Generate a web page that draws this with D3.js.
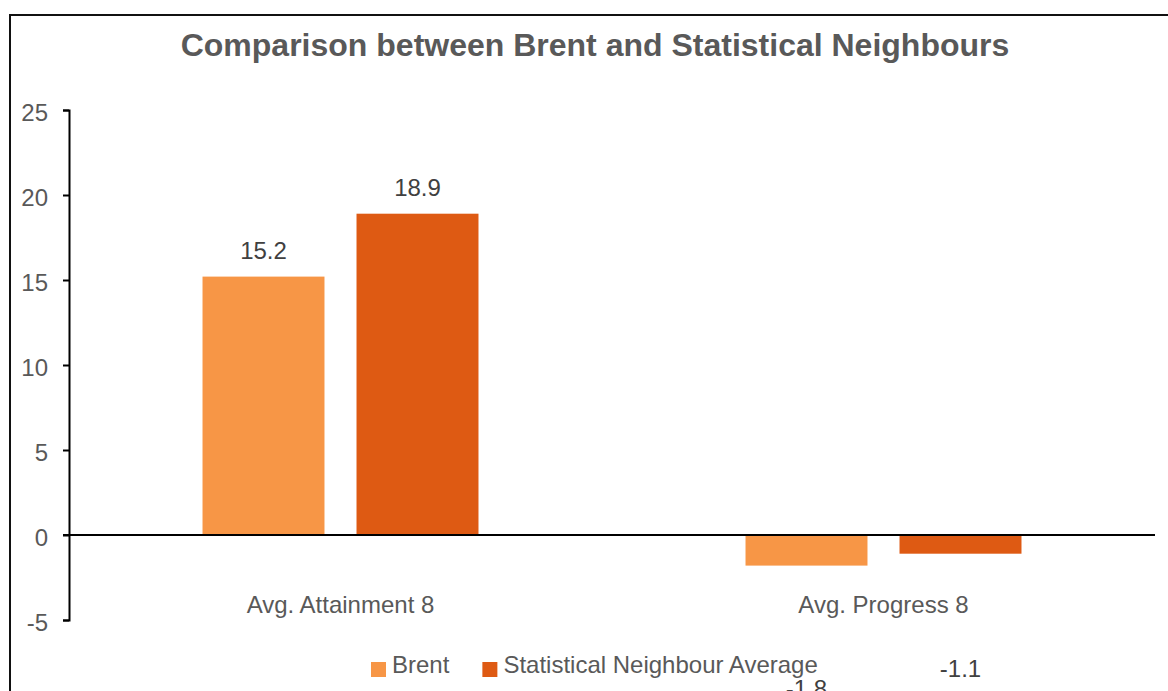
<!DOCTYPE html>
<html>
<head>
<meta charset="utf-8">
<script src="https://d3js.org/d3.v7.min.js"></script>
<style>
  html, body { margin: 0; padding: 0; background: #fff; }
  svg { display: block; font-family: "Liberation Sans", Arial, sans-serif; }
</style>
</head>
<body>
<div id="chart"></div>
<script>
// chart data
var categories = ["Avg. Attainment 8", "Avg. Progress 8"];
var seriesNames = ["Brent", "Statistical Neighbour Average"];
var brentValues = [15.2, -1.8];
var neighbourValues = [18.9, -1.1];
var yTicks = [-5, 0, 5, 10, 15, 20, 25];
var colors = ["#F79646", "#DE5A13"];

var width = 1168, height = 691;
var textColor = "#595959";

var svg = d3.select("#chart").append("svg")
    .attr("width", width)
    .attr("height", height);

// outer chart frame (runs off the right and bottom of the picture)
svg.append("rect")
    .attr("x", 10).attr("y", 15)
    .attr("width", 1170).attr("height", 700)
    .attr("fill", "none")
    .attr("stroke", "#111")
    .attr("stroke-width", 2);

svg.append("text")
    .attr("x", 595).attr("y", 56)
    .attr("text-anchor", "middle")
    .attr("font-size", 32)
    .attr("font-weight", "bold")
    .attr("fill", textColor)
    .text("Comparison between Brent and Statistical Neighbours");

var y = d3.scaleLinear().domain([-5, 25]).range([620, 110]);
var x0 = d3.scaleBand().domain(categories).range([69, 1155]).padding(0);
var x1 = d3.scaleBand().domain(seriesNames)
    .range([0, x0.bandwidth()])
    .paddingInner(0.208)
    .paddingOuter(0.867);

var rows = categories.map(function(c, i) {
    return { category: c, values: [brentValues[i], neighbourValues[i]] };
});

// y axis (plain hyphen for negatives, like the original)
var yAxis = d3.axisLeft(y).tickValues(yTicks).tickSize(6).tickPadding(15)
    .tickFormat(function(d) { return String(d); });
var yg = svg.append("g").attr("transform", "translate(69,0)").call(yAxis);
yg.select(".domain").attr("stroke", "#000").attr("stroke-width", 2);
yg.selectAll(".tick line").attr("stroke", "#000").attr("stroke-width", 2);
yg.selectAll(".tick text")
    .attr("font-size", 24)
    .attr("fill", textColor)
    .attr("font-family", "Liberation Sans, Arial, sans-serif")
    .attr("dy", "0.42em");

// bars
var groups = svg.selectAll("g.group")
    .data(rows)
    .enter().append("g")
    .attr("class", "group")
    .attr("transform", function(d) { return "translate(" + x0(d.category) + ",0)"; });

groups.selectAll("rect")
    .data(function(d) {
        return d.values.map(function(v, j) { return { name: seriesNames[j], value: v, idx: j }; });
    })
    .enter().append("rect")
    .attr("x", function(d) { return x1(d.name); })
    .attr("width", x1.bandwidth())
    .attr("y", function(d) { return y(Math.max(0, d.value)); })
    .attr("height", function(d) { return Math.abs(y(d.value) - y(0)); })
    .attr("fill", function(d) { return colors[d.idx]; });

// zero line
svg.append("line")
    .attr("x1", 63).attr("x2", 1155)
    .attr("y1", y(0)).attr("y2", y(0))
    .attr("stroke", "#000").attr("stroke-width", 2);

// data labels: positives sit above the bar, negatives drop far below
var negLabelY = d3.scaleLinear().domain([0, -5]).range([645.6, 788.6]);
groups.selectAll("text.val")
    .data(function(d) {
        return d.values.map(function(v, j) { return { name: seriesNames[j], value: v }; });
    })
    .enter().append("text")
    .attr("class", "val")
    .attr("x", function(d) { return x1(d.name) + x1.bandwidth() / 2; })
    .attr("y", function(d) { return d.value >= 0 ? y(d.value) - 18 : negLabelY(d.value); })
    .attr("text-anchor", "middle")
    .attr("font-size", 24)
    .attr("fill", "#404040")
    .text(function(d) { return d.value.toFixed(1); });

// category labels
svg.selectAll("text.cat")
    .data(categories)
    .enter().append("text")
    .attr("class", "cat")
    .attr("x", function(d) { return x0(d) + x0.bandwidth() / 2; })
    .attr("y", 613)
    .attr("text-anchor", "middle")
    .attr("font-size", 24)
    .attr("fill", textColor)
    .text(function(d) { return d; });

// legend
var legend = svg.append("g").attr("transform", "translate(371,0)");
var lx = 0;
seriesNames.forEach(function(name, i) {
    var item = legend.append("g").attr("transform", "translate(" + lx + ",0)");
    item.append("rect")
        .attr("x", 0).attr("y", 662)
        .attr("width", 15).attr("height", 15)
        .attr("fill", colors[i]);
    var t = item.append("text")
        .attr("x", 21).attr("y", 673)
        .attr("font-size", 24)
        .attr("fill", textColor)
        .text(name);
    lx += 21 + t.node().getComputedTextLength() + 33;
});
</script>
</body>
</html>
